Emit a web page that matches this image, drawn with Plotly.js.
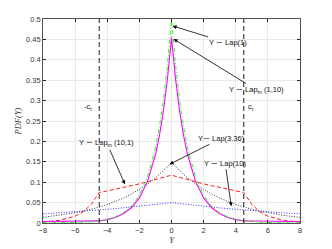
<!DOCTYPE html>
<html><head><meta charset="utf-8">
<script src="https://cdn.plot.ly/plotly-3.0.1.min.js"></script>
<style>html,body{margin:0;padding:0;background:#fff}#chart{width:332px;height:249px}</style>
</head><body><div id="chart"></div>
<script>
const Y = [-8,-7,-6,-5.5,-5,-4.5,-4,-3.5,-3,-2.5,-2,-1.5,-1,-0.75,-0.5,-0.25,0,0.25,0.5,0.75,1,1.5,2,2.5,3,3.5,4,4.5,5,5.5,6,7,8];
const lap1 = [0.0002,0.0005,0.0012,0.0020,0.0034,0.0056,0.009,0.015,0.025,0.041,0.068,0.112,0.184,0.236,0.303,0.389,0.5,0.389,0.303,0.236,0.184,0.112,0.068,0.041,0.025,0.015,0.009,0.0056,0.0034,0.0020,0.0012,0.0005,0.0002];
const lapm1_10 = [0.0036,0.0040,0.0044,0.0046,0.0048,0.0051,0.0083,0.0137,0.0226,0.0373,0.0615,0.1014,0.1672,0.2147,0.2757,0.354,0.4545,0.354,0.2757,0.2147,0.1672,0.1014,0.0615,0.0373,0.0226,0.0137,0.0083,0.0051,0.0048,0.0046,0.0044,0.0040,0.0036];
const lap336 = [0.0138,0.0185,0.0250,0.0290,0.0336,0.0390,0.0453,0.0525,0.0609,0.0707,0.0821,0.0952,0.1105,0.1190,0.1282,0.1381,0.1488,0.1381,0.1282,0.1190,0.1105,0.0952,0.0821,0.0707,0.0609,0.0525,0.0453,0.0390,0.0336,0.0290,0.0250,0.0185,0.0138];
const lap10 = [0.0225,0.0248,0.0274,0.0288,0.0303,0.0319,0.0335,0.0352,0.0370,0.0389,0.0409,0.0430,0.0452,0.0464,0.0476,0.0488,0.05,0.0488,0.0476,0.0464,0.0452,0.0430,0.0409,0.0389,0.0370,0.0352,0.0335,0.0319,0.0303,0.0288,0.0274,0.0248,0.0225];
const lapm10_1 = [0.0023,0.0061,0.0167,0.0275,0.0454,0.0748,0.0786,0.0826,0.0869,0.0914,0.0960,0.1010,0.1061,0.1088,0.1116,0.1144,0.1173,0.1144,0.1116,0.1088,0.1061,0.1010,0.0960,0.0914,0.0869,0.0826,0.0786,0.0748,0.0454,0.0275,0.0167,0.0061,0.0023];
const cLines = [-4.5, 4.5];
const xTicks = [-8,-6,-4,-2,0,2,4,6,8];
const yTicks = [0,0.05,0.1,0.15,0.2,0.25,0.3,0.35,0.4,0.45,0.5];

const traces = [
  {x:Y, y:lap336, mode:'lines', line:{color:'#000000', width:0.8, dash:'1px,1.6px'}},
  {x:Y, y:lap10, mode:'lines', line:{color:'#0000ff', width:0.8, dash:'1px,1.6px'}},
  {x:Y, y:lapm10_1, mode:'lines', line:{color:'#ff0000', width:0.9, dash:'4px,2.5px'}},
  {x:Y, y:lapm1_10, mode:'lines', line:{color:'#ff00ff', width:1.1}},
  {x:Y, y:lap1, mode:'lines', line:{color:'#00ff00', width:0.9, dash:'4px,2px,1px,2px'}},
  {x:[cLines[0],cLines[0]], y:[0,0.5], mode:'lines', line:{color:'#000000', width:0.9, dash:'5px,3px'}},
  {x:[cLines[1],cLines[1]], y:[0,0.5], mode:'lines', line:{color:'#000000', width:0.9, dash:'5px,3px'}}
];
const fnt = {family:'Liberation Sans, Arial, sans-serif', size:7.5, color:'#111'};
const arr = {showarrow:true, arrowhead:2, arrowsize:1, arrowwidth:0.8, arrowcolor:'#000', standoff:0, font:fnt};
const layout = {
  width:332, height:249, showlegend:false,
  margin:{l:43, r:32, t:19, b:26},
  paper_bgcolor:'#fff', plot_bgcolor:'#fff',
  font:{family:'Liberation Sans, Arial, sans-serif', size:7.5, color:'#333'},
  xaxis:{range:[-8,8], tickvals:xTicks, ticks:'inside', ticklen:3, tickcolor:'#262626',
    showline:true, linecolor:'#262626', linewidth:0.8, mirror:'ticks', zeroline:false,
    showgrid:true, gridcolor:'#e3e3e3', gridwidth:0.8,
    title:{text:'<i>Y</i>', font:{family:'Liberation Serif, serif', size:8.5, color:'#333'}, standoff:2}},
  yaxis:{range:[0,0.5], tickvals:yTicks, ticktext:yTicks.map(String), ticks:'inside', ticklen:3, tickcolor:'#262626',
    showline:true, linecolor:'#262626', linewidth:0.8, mirror:'ticks', zeroline:false,
    showgrid:true, gridcolor:'#e3e3e3', gridwidth:0.8,
    title:{text:'<i>PDF(Y)</i>', font:{family:'Liberation Serif, serif', size:8.5, color:'#333'}, standoff:3}},
  annotations:[
    Object.assign({x:0.07, y:0.483, ax:55, ay:17, text:'Y ∼ Lap(1)'}, arr),
    Object.assign({x:0.13, y:0.451, ax:83, ay:51, text:'Y ∼ Lap<sub>m</sub> (1,10)'}, arr),
    Object.assign({x:-2.9, y:0.095, ax:-18, ay:-41, text:'Y ∼ Lap<sub>m</sub> (10,1)'}, arr),
    Object.assign({x:-0.12, y:0.144, ax:52, ay:-26, text:'Y∼ Lap(3.36)'}, arr),
    Object.assign({x:3.72, y:0.041, ax:-6, ay:-43, text:'Y ∼ Lap(10)'}, arr),
    {x:-5.2, y:0.284, text:'-c<sub>t</sub>', showarrow:false, font:fnt},
    {x:4.95, y:0.284, text:'c<sub>t</sub>', showarrow:false, font:fnt}
  ]
};
Plotly.newPlot('chart', traces, layout, {staticPlot:true, displayModeBar:false});
</script></body></html>
